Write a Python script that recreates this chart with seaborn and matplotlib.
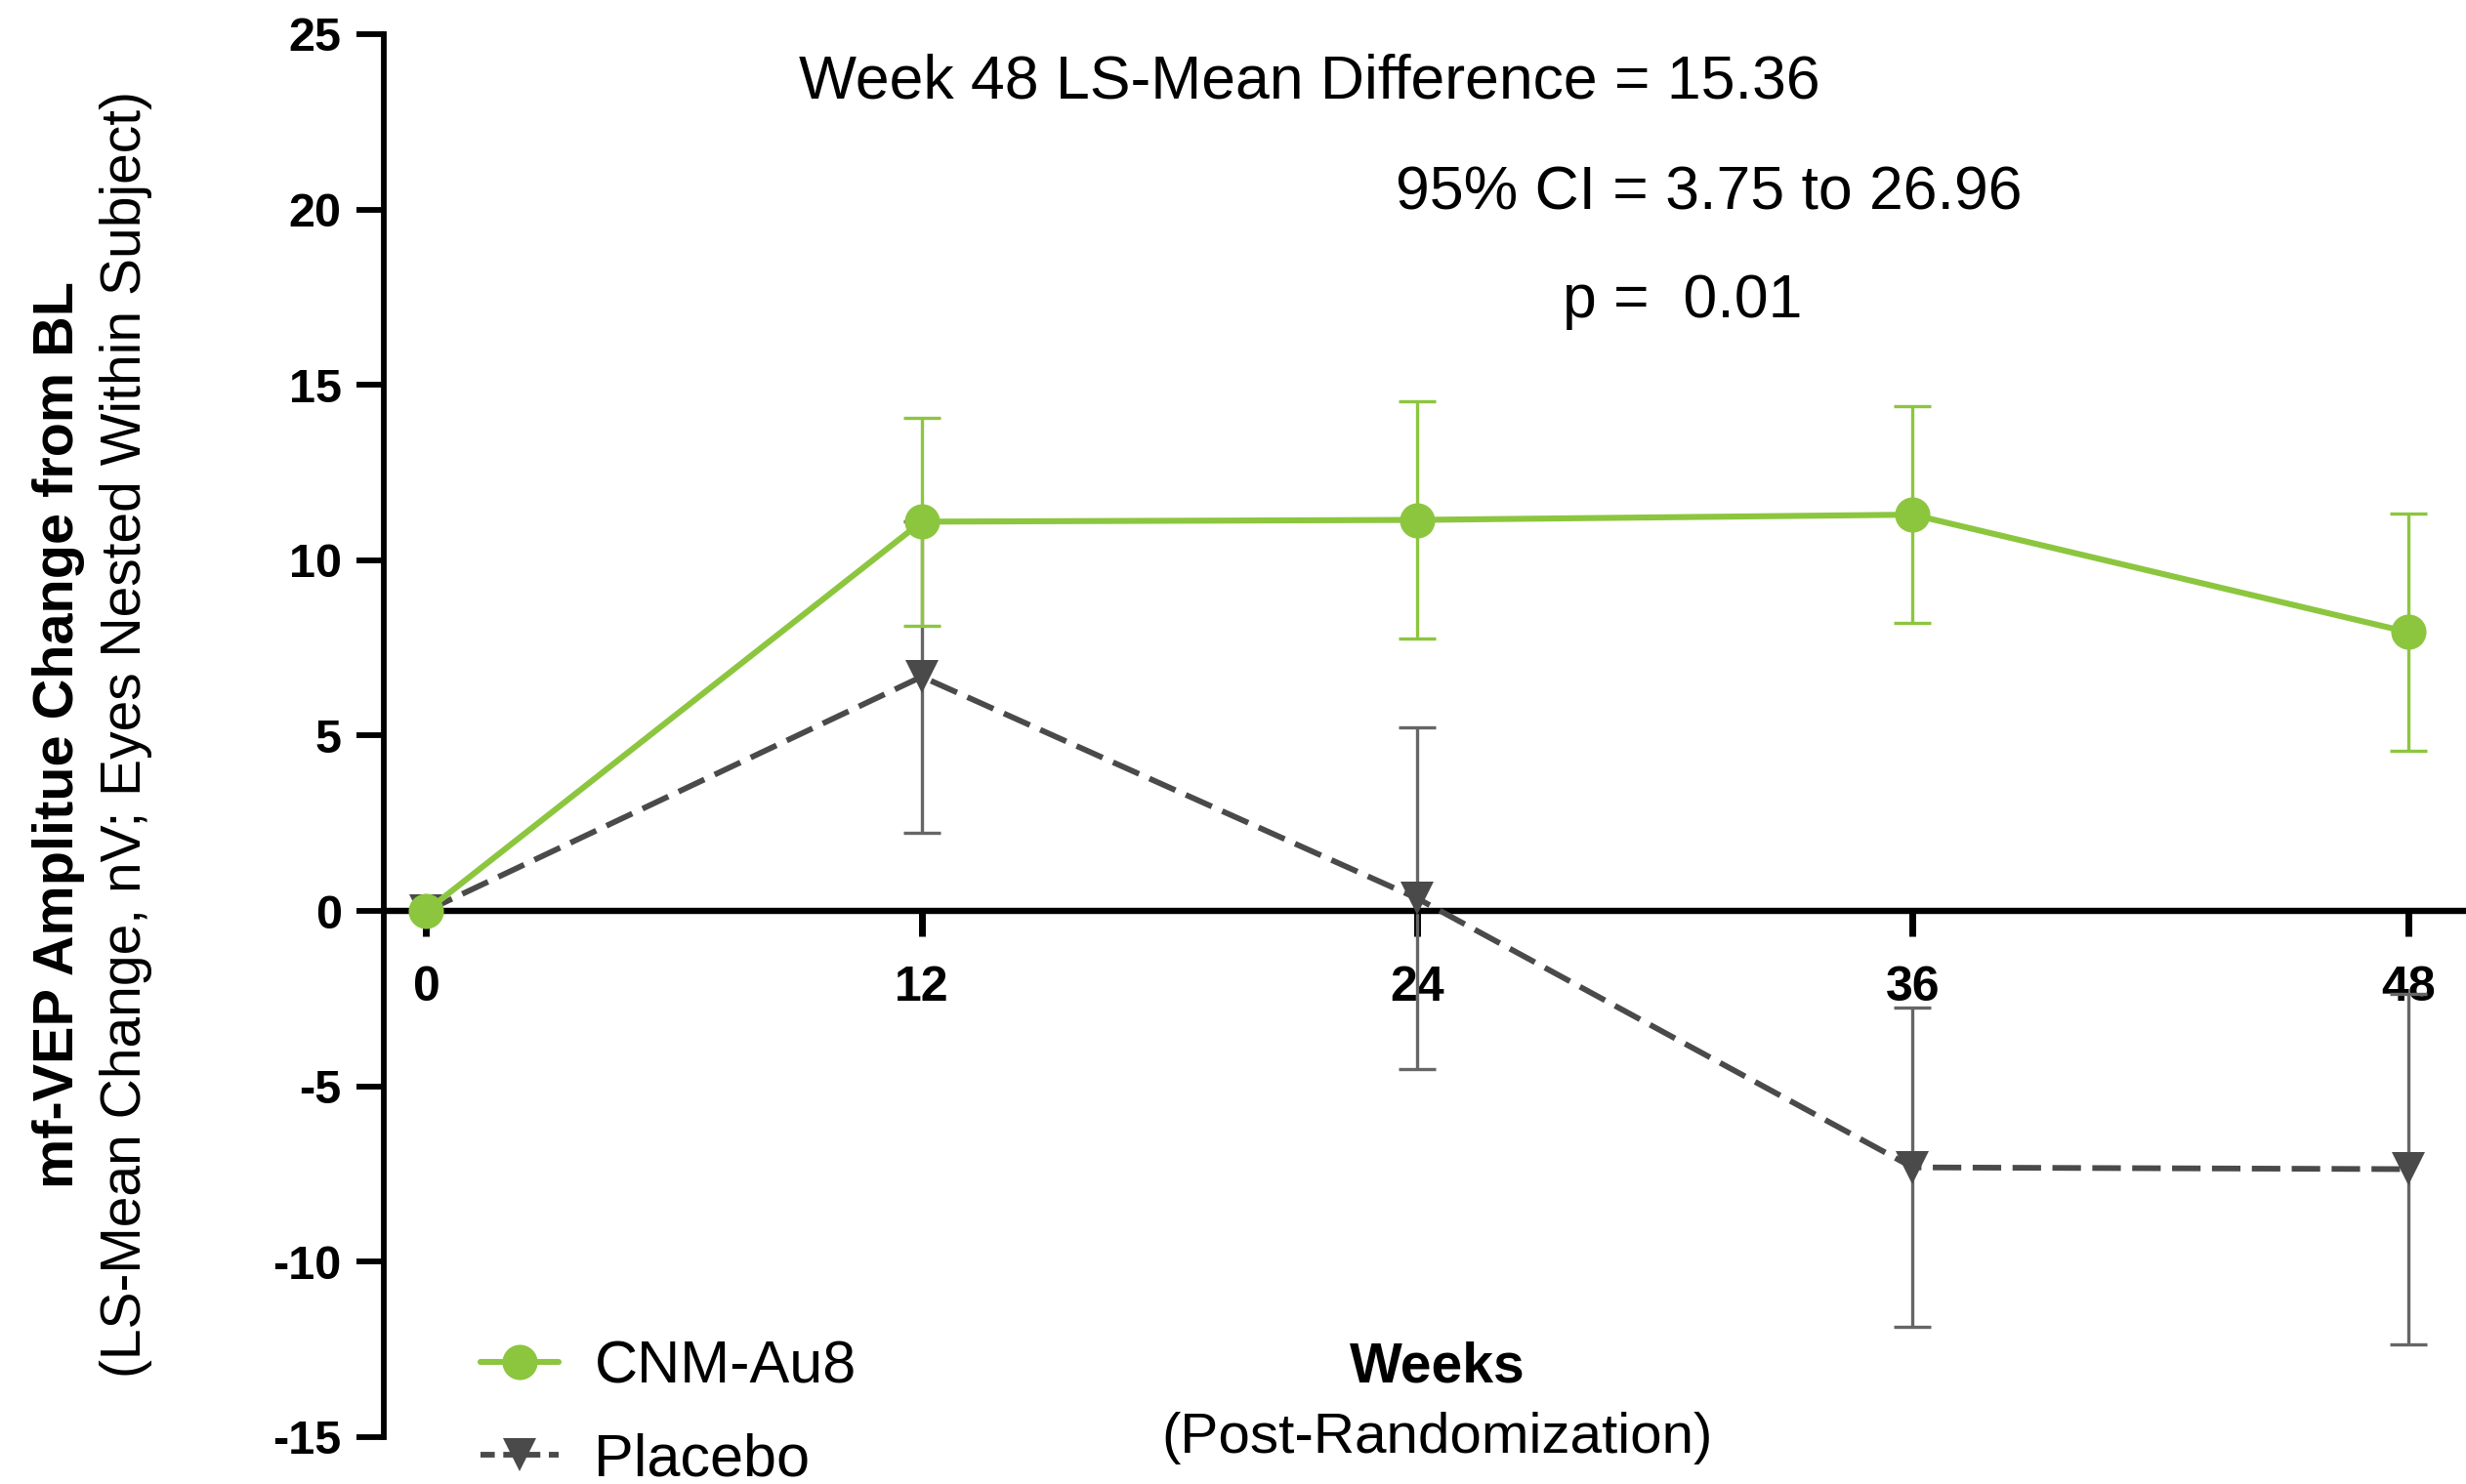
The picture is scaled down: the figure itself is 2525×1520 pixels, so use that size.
import numpy as np
import pandas as pd
import matplotlib
matplotlib.use("Agg")
import matplotlib.pyplot as plt
import seaborn as sns
from matplotlib.lines import Line2D

# ---- data ----
weeks = [0, 12, 24, 36, 48]
cnm_mean = [0.0, 11.10, 11.15, 11.30, 7.95]
cnm_err = [0.0, 2.96, 3.38, 3.08, 3.39]
pbo_mean = [0.0, 6.68, 0.36, -7.31, -7.36]
pbo_err = [0.0, 4.44, 4.88, 4.55, 5.00]
series_names = ["CNM-Au8", "Placebo"]
y_ticks = [-15, -10, -5, 0, 5, 10, 15, 20, 25]
x_ticks = [0, 12, 24, 36, 48]
annot_lines = ["Week 48 LS-Mean Difference = 15.36", "95% CI = 3.75 to 26.96", "p =  0.01"]

green = "#8CC63F"
grey = "#4A4A4A"
grey_err = "#666666"

sns.set_theme(style="white")
plt.rcParams["font.family"] = ["Liberation Sans", "DejaVu Sans"]
plt.rcParams["axes.unicode_minus"] = False
plt.rcParams["text.color"] = "black"

df = pd.DataFrame({
    "week": weeks * 2,
    "value": cnm_mean + pbo_mean,
    "err": cnm_err + pbo_err,
    "group": [series_names[0]] * len(weeks) + [series_names[1]] * len(weeks),
})

fig = plt.figure(figsize=(25.25, 15.2), dpi=100)
ax = fig.add_axes([0.1556, 0.0316, 0.8444, 0.9454])

d_c = df[df.group == series_names[0]]
d_p = df[df.group == series_names[1]]

# error bars
ax.errorbar(d_p.week[1:], d_p.value[1:], yerr=d_p.err[1:], fmt="none", ecolor=grey_err,
            elinewidth=2.4, capsize=14, capthick=2.4, zorder=2)
ax.errorbar(d_c.week[1:], d_c.value[1:], yerr=d_c.err[1:], fmt="none", ecolor=green,
            elinewidth=2.4, capsize=14, capthick=2.4, zorder=3)

sns.lineplot(data=d_p, x="week", y="value", ax=ax, color=grey, linewidth=4.2,
             marker="v", markersize=24, markeredgewidth=0, dashes=False,
             zorder=4, legend=False)
ax.lines[-1].set_dashes((5, 2))
sns.lineplot(data=d_c, x="week", y="value", ax=ax, color=green, linewidth=4.4,
             marker="o", markersize=26, markeredgewidth=0, zorder=5, legend=False)

ax.set_xlim(-1.03, 49.4)
ax.set_ylim(-15, 25)
ax.set_yticks(y_ticks)
ax.set_xticks(x_ticks)
ax.set_xlabel("")
ax.set_ylabel("")
for s in ["top", "right"]:
    ax.spines[s].set_visible(False)
ax.spines["bottom"].set_position(("data", 0))
ax.spines["bottom"].set_linewidth(4.6)
ax.spines["left"].set_linewidth(4.2)
ax.spines["bottom"].set_color("black")
ax.spines["left"].set_color("black")
ax.spines["bottom"].set_zorder(3.5)
ax.tick_params(axis="y", direction="out", length=20, width=4.2, pad=11, left=True,
               labelsize=35, colors="black")
ax.tick_params(axis="x", direction="out", length=19, width=5, pad=21, bottom=True,
               labelsize=36, colors="black")
for lab in ax.get_yticklabels() + ax.get_xticklabels():
    lab.set_fontweight("bold")
    lab.set_zorder(10)
ax.set_facecolor("none")

# annotations
fig.text(1341 / 2525, 1 - 84 / 1520, annot_lines[0], fontsize=45, ha="center", va="center")
fig.text(1750 / 2525, 1 - 198 / 1520, annot_lines[1], fontsize=45, ha="center", va="center")
fig.text(1723 / 2525, 1 - 309 / 1520, annot_lines[2], fontsize=45, ha="center", va="center")

# axis titles
fig.text(1472 / 2525, 1 - 1401 / 1520, "Weeks", fontsize=41, fontweight="bold",
         ha="center", va="center")
fig.text(1472 / 2525, 1 - 1473 / 1520, "(Post-Randomization)", fontsize=42,
         ha="center", va="center")
fig.text(60 / 2525, 0.505, "mf-VEP Amplitue Change from BL", fontsize=41.5, fontweight="bold",
         rotation=90, ha="center", va="center")
fig.text(129 / 2525, 0.505, "(LS-Mean Change, nV; Eyes Nested Within Subject)", fontsize=41,
         rotation=90, ha="center", va="center")

# legend
handles = [
    Line2D([], [], color=green, linewidth=4.4, marker="o", markersize=26, markeredgewidth=0),
    Line2D([], [], color=grey, linewidth=4.2, marker="v", markersize=24, markeredgewidth=0,
           dashes=(2.5, 1.5)),
]
fig.legend(handles, series_names, loc="upper left", bbox_to_anchor=(0.195, 0.097),
           frameon=False, fontsize=44, handlelength=1.3, handletextpad=0.6,
           labelspacing=0.62, borderpad=0, borderaxespad=0)

fig.savefig("out.png", dpi=100)
